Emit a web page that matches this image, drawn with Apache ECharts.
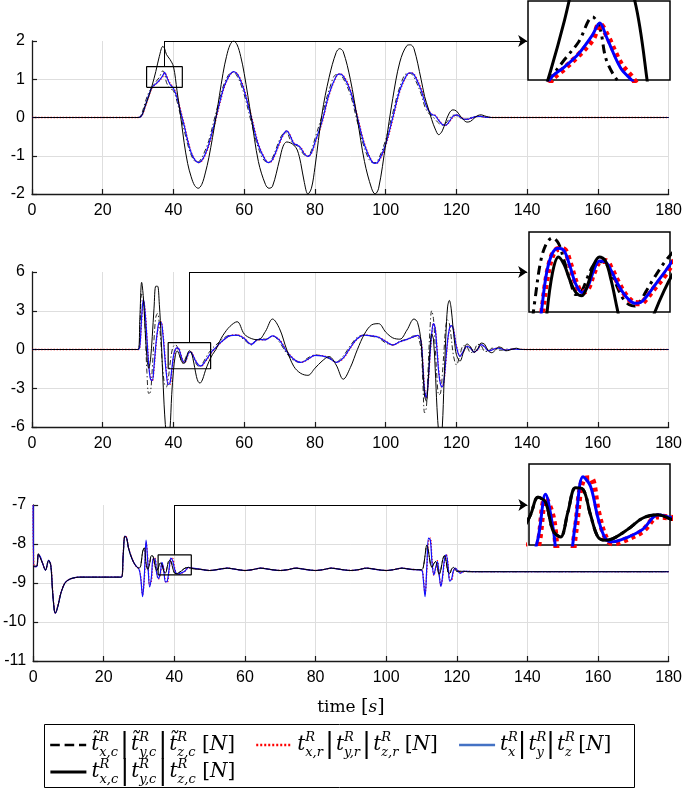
<!DOCTYPE html>
<html><head><meta charset="utf-8">
<script src="https://cdn.jsdelivr.net/npm/echarts@6.0.0/dist/echarts.min.js"></script>
<style>html,body{margin:0;padding:0;background:#fff}#c{width:685px;height:794px}</style>
</head><body><div id="c"></div>
<script>
// ---------------- Panel 1 (top) ----------------
const timeTop = [0,30,31,32,33,34,35,36,37,37.5,38,39,40,41,42,43,44,45,46,47,48,49,50,
  52,54,55,56,57,58,59,60,62,64,66,67,68,70,71,72,73,74,75,76,77,78,79,80,
  82,84,86,87,88,90,92,94,96,97,98,100,102,104,106,107,108,110,
  111,112,113,114,115,116,117,118,119,120,121,122,123,124,125,126,127,128,130,132,135,140,180];
const tildeTop = [0,0,0.1,0.4,0.65,0.8,0.93,1.05,1.22,1.15,0.92,0.76,0.7,0.42,0.05,-0.32,-0.7,-0.98,-1.14,-1.16,-1.05,-0.85,-0.6,
  0.12,0.8,1.02,1.16,1.18,1.08,0.88,0.6,-0.12,-0.8,-1.15,-1.16,-1.05,-0.58,-0.42,-0.4,-0.58,-0.7,-0.74,-0.86,-0.98,-1.0,-0.86,-0.55,
  0.05,0.72,1.12,1.12,1.02,0.6,-0.12,-0.8,-1.17,-1.18,-1.08,-0.58,0.12,0.8,1.15,1.15,1.05,0.62,
  0.3,0.12,0.05,-0.05,-0.15,-0.2,-0.15,-0.03,0.06,0.05,-0.01,-0.05,-0.04,0,0.02,0.03,0.02,0,0,0,0,0,0];
const refTop = [0,0,0.04,0.27,0.55,0.78,0.87,0.96,1.07,1.17,1.1,0.9,0.78,0.56,0.2,-0.16,-0.56,-0.9,-1.09,-1.18,-1.14,-0.98,-0.74,
  -0.05,0.68,0.94,1.11,1.2,1.15,0.99,0.74,0.05,-0.68,-1.1,-1.18,-1.12,-0.68,-0.47,-0.35,-0.46,-0.66,-0.72,-0.78,-0.93,-1.02,-0.94,-0.68,
  -0.14,0.58,1.06,1.14,1.1,0.74,0.05,-0.68,-1.12,-1.2,-1.16,-0.74,-0.05,0.68,1.1,1.17,1.14,0.76,
  0.46,0.22,0.09,0.06,-0.06,-0.17,-0.2,-0.12,0.01,0.07,0.03,-0.03,-0.05,-0.03,0,0.03,0.03,0.01,0,0,0,0,0];
const actTop = [0,0,0.05,0.3,0.58,0.8,0.88,0.97,1.1,1.18,1.08,0.87,0.76,0.52,0.15,-0.2,-0.6,-0.92,-1.1,-1.18,-1.12,-0.95,-0.7,
  0,0.72,0.96,1.13,1.2,1.14,0.96,0.7,0,-0.72,-1.12,-1.18,-1.1,-0.65,-0.45,-0.35,-0.48,-0.68,-0.72,-0.8,-0.95,-1.02,-0.92,-0.65,
  -0.1,0.62,1.08,1.14,1.08,0.7,0,-0.72,-1.14,-1.2,-1.14,-0.7,0,0.72,1.12,1.17,1.12,0.72,
  0.42,0.2,0.08,0.05,-0.08,-0.18,-0.2,-0.1,0.03,0.07,0.02,-0.04,-0.05,-0.02,0.01,0.03,0.03,0.01,0,0,0,0,0];
const cmdTop = [0,0,0.05,0.3,0.55,0.85,1.2,1.6,1.86,1.8,1.65,1.52,1.33,0.7,0.05,-0.65,-1.2,-1.55,-1.78,-1.85,-1.75,-1.45,-1.05,
  0,1.15,1.6,1.9,2.0,1.9,1.6,1.15,0,-1.15,-1.75,-1.85,-1.8,-1.1,-0.75,-0.64,-0.66,-0.72,-0.85,-1.2,-1.7,-2.0,-1.85,-1.3,
  0.1,1.05,1.7,1.8,1.72,1.0,-0.05,-1.15,-1.85,-2.0,-1.85,-0.7,0.5,1.45,1.88,1.9,1.8,1.0,
  0.55,0.25,-0.05,-0.3,-0.45,-0.35,-0.1,0.12,0.2,0.17,0.05,-0.06,-0.12,-0.1,-0.02,0.05,0.07,0.04,0,0,0,0,0];

// ---------------- Panel 2 (middle) ----------------
const timeMid = [0,30,30.5,31,31.5,32,32.5,33,33.5,34,34.5,35,35.5,36,36.5,37,37.5,38,38.5,39,39.5,
  40,40.5,41,41.5,42,42.5,43,43.5,44,44.5,45,45.5,46,46.5,47,47.5,48,48.5,49,50,51,52,53,54,
  56,58,60,62,64,66,68,70,72,74,76,78,80,82,84,86,88,90,92,94,96,98,100,102,104,106,108,109,110,
  110.5,111,111.5,112,112.5,113,113.5,114,114.5,115,115.5,116,116.5,117,117.5,118,118.5,119,119.5,120,
  121,122,123,124,125,126,127,128,129,130,131,132,133,134,135,136,137,138,140,180];
const tildeMid = [0,0,1.5,4.3,4.0,1.5,-1.8,-3.4,-3.3,-1.5,0.8,2.5,2.8,2.0,0.3,-1.6,-2.7,-2.9,-2.3,-1.2,-0.2,
  0.25,0.38,0.25,-0.2,-0.7,-1.05,-0.95,-0.6,-0.3,-0.22,-0.25,-0.5,-0.85,-1.15,-1.3,-1.34,-1.2,-0.95,-0.7,-0.25,0.1,0.35,0.6,0.85,
  1.1,1.1,0.75,0.35,0.85,0.8,1.05,0.55,-0.3,-0.85,-1.0,-0.65,-0.42,-0.5,-0.7,-0.95,-0.5,0.3,0.95,1.12,1.02,0.9,0.5,0.35,0.65,0.8,1.05,1.0,0.0,
  -2.5,-4.9,-4.5,-1.5,1.5,3.0,2.4,0.2,-2.2,-3.5,-3.4,-2.0,0.0,1.8,2.3,2.0,1.0,-0.2,-0.9,-1.2,
  -0.4,0.3,0.2,-0.25,-0.1,0.4,0.3,-0.15,-0.15,0.1,0.1,-0.05,-0.05,0.03,0.03,0,0,0,0,0];
const refMid = [0,0,0.2,2.2,3.8,3.0,1.0,-1.0,-2.2,-2.45,-1.5,0.1,1.4,2.05,2.15,1.35,-0.2,-1.75,-2.65,-2.7,-1.8,
  -0.65,-0.05,0.1,0.08,-0.28,-0.75,-1.0,-0.9,-0.5,-0.22,-0.2,-0.4,-0.7,-0.97,-1.16,-1.26,-1.27,-1.14,-0.95,-0.58,-0.15,0.12,0.42,0.68,
  1.06,1.13,0.88,0.42,0.75,0.76,1.03,0.75,-0.1,-0.72,-1.0,-0.78,-0.45,-0.48,-0.63,-1.0,-0.7,0.1,0.82,1.12,1.06,0.96,0.65,0.35,0.58,0.77,0.98,1.1,0.7,
  -1.0,-3.0,-3.75,-2.7,-0.7,1.0,2.0,1.75,0.2,-1.6,-2.65,-2.9,-2.45,-1.0,0.5,1.5,1.85,1.75,1.1,0.3,
  -0.5,-0.15,0.25,0.12,-0.18,-0.02,0.36,0.22,-0.08,-0.06,0.07,0.1,0.03,-0.04,-0.01,0.04,0.03,0.01,0,0];
const actMid = [0,0,0.3,2.5,3.9,2.8,0.8,-1.2,-2.3,-2.4,-1.3,0.3,1.5,2.1,2.1,1.2,-0.4,-1.9,-2.7,-2.6,-1.6,
  -0.5,0.0,0.12,0.05,-0.35,-0.8,-1.0,-0.85,-0.45,-0.2,-0.22,-0.45,-0.75,-1.0,-1.18,-1.27,-1.25,-1.1,-0.9,-0.5,-0.1,0.15,0.45,0.7,
  1.08,1.12,0.85,0.4,0.78,0.75,1.05,0.7,-0.15,-0.75,-1.0,-0.75,-0.45,-0.5,-0.65,-1.0,-0.65,0.15,0.85,1.12,1.05,0.95,0.62,0.35,0.6,0.78,1.0,1.1,0.6,
  -1.2,-3.2,-3.7,-2.5,-0.5,1.2,2.0,1.6,0.0,-1.8,-2.7,-2.9,-2.3,-0.8,0.7,1.6,1.85,1.7,1.0,0.2,
  -0.55,-0.1,0.25,0.1,-0.2,0.0,0.38,0.2,-0.1,-0.05,0.08,0.1,0.02,-0.05,0.0,0.04,0.03,0,0,0];
const cmdMid = [0,0,2.5,5.2,4.0,1.5,-0.6,-1.45,-0.8,1.0,3.2,4.9,4.9,3.5,1.0,-2.2,-5.0,-6.6,-7.0,-6.2,-3.5,
  -1.6,-0.5,-0.1,-0.3,-0.7,-1.0,-1.08,-0.8,-0.3,-0.1,-0.2,-0.7,-1.4,-2.1,-2.5,-2.6,-2.45,-2.1,-1.65,-0.95,-0.4,0,0.6,1.1,
  1.8,2.15,1.2,0.85,0.75,1.4,2.36,1.6,0.0,-1.3,-1.85,-2.0,-1.45,-0.9,-0.55,-1.2,-2.3,-1.4,0.0,1.2,1.9,2.0,1.35,0.9,0.8,1.5,2.36,2.1,0.6,
  -1.5,-3.6,-4.0,-2.5,0.0,1.2,0.8,-1.5,-4.5,-6.5,-7.2,-6.0,-2.5,1.0,3.3,3.8,3.2,1.8,0.5,-0.4,
  -0.9,-0.2,0.43,0.2,-0.22,0.05,0.5,0.4,-0.1,-0.25,-0.05,0.2,0.1,-0.1,-0.05,0.05,0.1,0.02,0,0];

// ---------------- Panel 3 (bottom) ----------------
const timeBot = [0,0.3,1,1.5,2,2.7,3.5,4.4,5,5.5,6,6.3,7,7.5,8,9,10,11,13,15,20,
  25,25.5,26,26.5,27,28,29,30,30.5,31,31.5,32,32.5,33,33.5,34,34.5,35,35.5,36,
  36.5,37,37.5,38,38.5,39,39.5,40,40.5,41,42,43,44,45,
  47.5,50,52.5,55,57.5,60,62,64.5,67,70,72,74.5,77,80,82,84.5,87,90,92,94.5,97,100,102,104.5,107,110,
  110.5,111,111.5,112,112.5,113,113.5,114,114.5,115,115.5,116,116.5,117,117.5,118,118.5,119,119.5,120,
  121,122,123,125,130,140,180];
const tildeBot = [-8.57,-8.57,-8.57,-8.25,-8.35,-8.5,-8.67,-8.42,-8.55,-9.2,-9.7,-9.77,-9.6,-9.4,-9.22,-9.0,-8.92,-8.88,-8.85,-8.85,-8.85,
  -8.85,-8.3,-7.8,-7.85,-8.1,-8.38,-8.55,-8.62,-8.55,-8.2,-8.1,-8.5,-8.65,-8.5,-8.3,-8.32,-8.55,-8.68,-8.6,-8.49,
  -8.52,-8.7,-8.74,-8.58,-8.43,-8.44,-8.6,-8.74,-8.76,-8.75,-8.69,-8.62,-8.6,-8.63,
  -8.65,-8.68,-8.65,-8.62,-8.65,-8.68,-8.66,-8.62,-8.65,-8.68,-8.66,-8.62,-8.65,-8.68,-8.66,-8.62,-8.65,-8.68,-8.66,-8.62,-8.65,-8.68,-8.66,-8.62,-8.65,-8.66,
  -8.6,-8.3,-8.03,-8.2,-8.5,-8.6,-8.5,-8.45,-8.6,-8.78,-8.65,-8.4,-8.3,-8.45,-8.72,-8.75,-8.65,-8.6,-8.64,-8.7,
  -8.7,-8.7,-8.71,-8.71,-8.71,-8.71,-8.71];
const refBot = [-7.0,-8.58,-8.58,-8.27,-8.34,-8.5,-8.66,-8.43,-8.52,-9.15,-9.68,-9.77,-9.58,-9.37,-9.2,-9.0,-8.92,-8.88,-8.85,-8.85,-8.85,
  -8.85,-8.25,-7.8,-7.83,-8.08,-8.37,-8.55,-8.65,-8.85,-9.3,-8.9,-7.95,-8.4,-9.05,-8.95,-8.4,-8.36,-8.75,-8.9,-8.8,
  -8.5,-8.62,-8.97,-8.98,-8.7,-8.38,-8.37,-8.58,-8.74,-8.78,-8.75,-8.7,-8.61,-8.62,
  -8.65,-8.68,-8.65,-8.62,-8.65,-8.68,-8.66,-8.62,-8.65,-8.68,-8.66,-8.62,-8.65,-8.68,-8.66,-8.62,-8.65,-8.68,-8.66,-8.62,-8.65,-8.68,-8.66,-8.62,-8.65,-8.67,
  -8.85,-9.3,-8.7,-7.9,-7.85,-8.42,-8.8,-8.65,-8.43,-8.75,-9.08,-8.85,-8.45,-8.27,-8.5,-8.92,-8.93,-8.73,-8.62,-8.65,
  -8.74,-8.71,-8.7,-8.71,-8.71,-8.71,-8.71];
const actBot = [-7.0,-8.58,-8.58,-8.28,-8.32,-8.5,-8.67,-8.42,-8.55,-9.2,-9.7,-9.77,-9.6,-9.4,-9.22,-9.0,-8.92,-8.88,-8.85,-8.85,-8.85,
  -8.85,-8.3,-7.8,-7.85,-8.1,-8.38,-8.55,-8.65,-8.9,-9.35,-8.8,-7.9,-8.5,-9.1,-8.85,-8.38,-8.38,-8.75,-8.88,-8.75,
  -8.47,-8.68,-8.97,-8.95,-8.65,-8.36,-8.42,-8.62,-8.75,-8.77,-8.74,-8.69,-8.6,-8.62,
  -8.65,-8.68,-8.65,-8.62,-8.65,-8.68,-8.66,-8.62,-8.65,-8.68,-8.66,-8.62,-8.65,-8.68,-8.66,-8.62,-8.65,-8.68,-8.66,-8.62,-8.65,-8.68,-8.66,-8.62,-8.65,-8.67,
  -8.9,-9.35,-8.6,-7.85,-7.9,-8.5,-8.79,-8.6,-8.45,-8.8,-9.09,-8.8,-8.4,-8.28,-8.55,-8.95,-8.9,-8.7,-8.62,-8.66,
  -8.75,-8.7,-8.7,-8.71,-8.71,-8.71,-8.71];
const cmdBot = [-8.57,-8.57,-8.57,-8.25,-8.35,-8.5,-8.67,-8.42,-8.55,-9.2,-9.7,-9.77,-9.6,-9.4,-9.22,-9.0,-8.92,-8.88,-8.85,-8.85,-8.85,
  -8.85,-8.3,-7.8,-7.85,-8.1,-8.38,-8.55,-8.62,-8.55,-8.2,-8.1,-8.5,-8.65,-8.5,-8.3,-8.32,-8.55,-8.68,-8.6,-8.49,
  -8.52,-8.7,-8.74,-8.58,-8.43,-8.44,-8.6,-8.74,-8.76,-8.75,-8.69,-8.62,-8.6,-8.63,
  -8.65,-8.68,-8.65,-8.62,-8.65,-8.68,-8.66,-8.62,-8.65,-8.68,-8.66,-8.62,-8.65,-8.68,-8.66,-8.62,-8.65,-8.68,-8.66,-8.62,-8.65,-8.68,-8.66,-8.62,-8.65,-8.66,
  -8.6,-8.3,-8.03,-8.2,-8.5,-8.6,-8.5,-8.45,-8.6,-8.78,-8.65,-8.4,-8.3,-8.45,-8.72,-8.75,-8.65,-8.6,-8.64,-8.7,
  -8.7,-8.7,-8.71,-8.71,-8.71,-8.71,-8.71];

// ---------------- Axis ranges, zoom boxes, annotations ----------------
const xRange = [0, 180];
const yRangeTop = [-2, 2], yRangeMid = [-6, 6], yRangeBot = [-11, -7];
const yStep = [1, 3, 1];
const zoomTopX = [32.4, 42.5], zoomTopY = [0.79, 1.33];
const zoomMidX = [38.5, 50.5], zoomMidY = [-1.49, 0.53];
const zoomBotX = [35.4, 44.8], zoomBotY = [-8.79, -8.28];
const arrowX = [37.5, 44.4, 40];
const arrowTargetX = 140;
const insetGridX = [[40], [40, 44.5], [40]];
const insetGridY = [[1], [0], []];

// ---------------- Build chart ----------------
const chart = echarts.init(document.getElementById('c'), null, {renderer: 'canvas', width: 685, height: 794});
const AX = '#1a1a1a';
const SANS = 'Liberation Sans, Arial, sans-serif';
const SERIF = 'DejaVu Serif, Liberation Serif, serif';
const pairs = (t, v) => t.map((x, i) => [x, v[i]]);

const panels = [
  {t: timeTop, d: tildeTop, r: refTop, b: actTop, s: cmdTop, yr: yRangeTop, zx: zoomTopX, zy: zoomTopY},
  {t: timeMid, d: tildeMid, r: refMid, b: actMid, s: cmdMid, yr: yRangeMid, zx: zoomMidX, zy: zoomMidY},
  {t: timeBot, d: tildeBot, r: refBot, b: actBot, s: cmdBot, yr: yRangeBot, zx: zoomBotX, zy: zoomBotY}
];

const grid = [
  {left: 32, top: 41, width: 638.5, height: 153},
  {left: 32, top: 272, width: 638.5, height: 155},
  {left: 32, top: 505, width: 638.5, height: 156},
  {left: 528, top: 1, width: 142, height: 79, show: true, backgroundColor: '#fff', borderColor: '#000', borderWidth: 1.5, z: 8},
  {left: 529, top: 232, width: 141, height: 80, show: true, backgroundColor: '#fff', borderColor: '#000', borderWidth: 1.5, z: 8},
  {left: 529, top: 464, width: 141, height: 81, show: true, backgroundColor: '#fff', borderColor: '#000', borderWidth: 1.5, z: 8}
];

const xAxis = [], yAxis = [];
for (let p = 0; p < 3; p++) {
  xAxis.push({
    type: 'value', gridIndex: p, min: xRange[0], max: xRange[1], interval: 20,
    axisLine: {show: true, onZero: false, lineStyle: {color: AX, width: 1.3}},
    axisTick: {show: true, inside: true, length: 5, lineStyle: {color: AX, width: 1.2}},
    axisLabel: {color: '#000', fontFamily: SANS, fontSize: 16, margin: 9},
    splitLine: {show: true, lineStyle: {color: '#dedede', width: 1}},
    name: p === 2 ? '{a|time }{b|[}{c|s}{b|]}' : '',
    nameLocation: 'middle', nameGap: 37,
    nameTextStyle: {rich: {
      a: {fontFamily: SERIF, fontSize: 17, color: '#000'},
      b: {fontFamily: SERIF, fontSize: 19, color: '#000'},
      c: {fontFamily: SERIF, fontStyle: 'italic', fontSize: 17, color: '#000'}
    }}
  });
  yAxis.push({
    type: 'value', gridIndex: p, min: panels[p].yr[0], max: panels[p].yr[1], interval: yStep[p],
    axisLine: {show: true, onZero: false, lineStyle: {color: AX, width: 1.3}},
    axisTick: {show: true, inside: true, length: 5, lineStyle: {color: AX, width: 1.2}},
    axisLabel: {color: '#000', fontFamily: SANS, fontSize: 16, margin: 7},
    splitLine: {show: true, showMaxLine: false, lineStyle: {color: '#dedede', width: 1}}
  });
}
for (let p = 0; p < 3; p++) {
  xAxis.push({type: 'value', gridIndex: p + 3, min: panels[p].zx[0], max: panels[p].zx[1], show: false, splitLine: {show: false}});
  yAxis.push({type: 'value', gridIndex: p + 3, min: panels[p].zy[0], max: panels[p].zy[1], show: false, splitLine: {show: false}});
}

const series = [];
const common = {type: 'line', symbol: 'none', showSymbol: false, smooth: 0.35, silent: true, animation: false};
for (let p = 0; p < 3; p++) {
  const P = panels[p];
  // main panel lines
  series.push(Object.assign({}, common, {name: 'tilde', xAxisIndex: p, yAxisIndex: p, z: 2, data: pairs(P.t, P.d),
    lineStyle: {color: '#111', width: 0.9, type: [5, 2.5, 1.3, 2.5]}}));
  series.push(Object.assign({}, common, {name: 'ref', xAxisIndex: p, yAxisIndex: p, z: 3, data: pairs(P.t, P.r),
    lineStyle: {color: '#ff0000', width: 1.3, type: [1.3, 1.8]}}));
  series.push(Object.assign({}, common, {name: 'act', xAxisIndex: p, yAxisIndex: p, z: 4, data: pairs(P.t, P.b),
    lineStyle: {color: '#1010ff', width: 1.2}}));
  series.push(Object.assign({}, common, {name: 'cmd', xAxisIndex: p, yAxisIndex: p, z: 5, data: pairs(P.t, P.s),
    lineStyle: {color: '#000', width: 1}}));
  // inset lines
  series.push(Object.assign({}, common, {name: 'tilde', xAxisIndex: p + 3, yAxisIndex: p + 3, z: 11, data: pairs(P.t, P.d),
    lineStyle: {color: '#000', width: 3, type: [9, 5, 3, 5]},
    markLine: {silent: true, symbol: 'none', label: {show: false}, animation: false,
      lineStyle: {color: '#c8c8c8', width: 1.2, type: 'solid'},
      data: insetGridX[p].map(v => ({xAxis: v})).concat(insetGridY[p].map(v => ({yAxis: v})))}}));
  series.push(Object.assign({}, common, {name: 'ref', xAxisIndex: p + 3, yAxisIndex: p + 3, z: 12, data: pairs(P.t, P.r),
    lineStyle: {color: '#ff0000', width: 6, type: [4, 4]}}));
  series.push(Object.assign({}, common, {name: 'act', xAxisIndex: p + 3, yAxisIndex: p + 3, z: 13, data: pairs(P.t, P.b),
    lineStyle: {color: '#0000ff', width: 3}}));
  series.push(Object.assign({}, common, {name: 'cmd', xAxisIndex: p + 3, yAxisIndex: p + 3, z: 14, data: pairs(P.t, P.s),
    lineStyle: {color: '#000', width: 3}}));
  // zoom box
  series.push({type: 'line', name: 'box' + p, xAxisIndex: p, yAxisIndex: p, z: 6, symbol: 'none', silent: true, animation: false, clip: false,
    data: [[P.zx[0], P.zy[0]], [P.zx[1], P.zy[0]], [P.zx[1], P.zy[1]], [P.zx[0], P.zy[1]], [P.zx[0], P.zy[0]]],
    lineStyle: {color: '#000', width: 1.2}});
  // connector
  series.push({type: 'lines', coordinateSystem: 'cartesian2d', xAxisIndex: p, yAxisIndex: p, z: 6, silent: true, animation: false, clip: false,
    symbol: 'none', lineStyle: {color: '#000', width: 1, opacity: 1},
    data: [{coords: [[arrowX[p], P.zy[1]], [arrowX[p], P.yr[1]]]}]});
  series.push({type: 'lines', coordinateSystem: 'cartesian2d', xAxisIndex: p, yAxisIndex: p, z: 6, silent: true, animation: false, clip: false,
    symbol: ['none', 'arrow'], symbolSize: 9, lineStyle: {color: '#000', width: 1, opacity: 1},
    data: [{coords: [[arrowX[p], P.yr[1]], [arrowTargetX, P.yr[1]]]}]});
}

const labels = {
  tilde: '{i|t\u0303}{sp|R}{sb|x,c}{bar||}{i|t\u0303}{sp|R}{sb|y,c}{bar||}{i|t\u0303}{sp|R}{sb|z,c}{n| [}{i|N}{n|]}',
  ref: '{i|t}{sp|R}{sb|x,r}{bar||}{i|t}{sp|R}{sb|y,r}{bar||}{i|t}{sp|R}{sb|z,r}{n| [}{i|N}{n|]}',
  act: '{i|t}{sp|R}{sb|x}{bar||}{i|t}{sp|R}{sb|y}{bar||}{i|t}{sp|R}{sb|z}{n| [}{i|N}{n|]}',
  cmd: '{i|t}{sp|R}{sb|x,c}{bar||}{i|t}{sp|R}{sb|y,c}{bar||}{i|t}{sp|R}{sb|z,c}{n| [}{i|N}{n|]}'
};
const legendText = {
  color: '#000', fontFamily: SERIF, fontSize: 19,
  rich: {
    i: {fontFamily: SERIF, fontStyle: 'italic', fontSize: 20, lineHeight: 28, color: '#000'},
    sp: {fontFamily: SERIF, fontStyle: 'italic', fontSize: 13, lineHeight: 13, verticalAlign: 'top', width: 0.01, color: '#000'},
    sb: {fontFamily: SERIF, fontStyle: 'italic', fontSize: 13, lineHeight: 13, verticalAlign: 'bottom', color: '#000'},
    bar: {fontFamily: SERIF, fontSize: 27, lineHeight: 28, color: '#000', padding: [0, 2, 0, 2]},
    n: {fontFamily: SERIF, fontSize: 20, lineHeight: 28, color: '#000'}
  }
};
const legendFmt = name => labels[name];
const noSym = {opacity: 0, color: 'rgba(0,0,0,0)', borderWidth: 0};

chart.setOption({
  backgroundColor: '#fff',
  animation: false,
  grid, xAxis, yAxis, series,
  legend: [
    {data: [{name: 'tilde', itemStyle: noSym, lineStyle: {type: 'dashed', width: 2.4, color: '#000'}},
            {name: 'ref', itemStyle: noSym, lineStyle: {type: [2, 2], width: 2.4, color: '#ff0000'}},
            {name: 'act', itemStyle: noSym, lineStyle: {width: 2.4, color: '#4472c4'}}],
     left: 44, top: 726, itemWidth: 36, itemHeight: 14, itemGap: 20, selectedMode: false,
     itemStyle: noSym, formatter: legendFmt, textStyle: legendText},
    {data: [{name: 'cmd', itemStyle: noSym, lineStyle: {width: 2.8, color: '#000'}}],
     left: 44, top: 753, itemWidth: 36, itemHeight: 14, itemGap: 20, selectedMode: false,
     itemStyle: noSym, formatter: legendFmt, textStyle: legendText}
  ],
  graphic: [{type: 'rect', left: 42, top: 722, shape: {width: 590, height: 63}, style: {fill: 'none', stroke: '#000', lineWidth: 1}, silent: true}]
});
</script></body></html>
